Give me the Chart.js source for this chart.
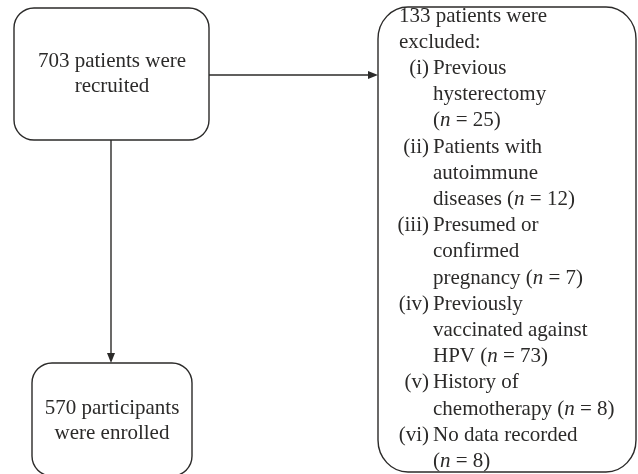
<!DOCTYPE html>
<html>
<head>
<meta charset="utf-8">
<script src="https://cdn.jsdelivr.net/npm/chart.js@4"></script>
<style>
  body { margin: 0; background: #fff; }
  canvas { display: block; }
</style>
</head>
<body>
<canvas id="flow" width="638" height="474"></canvas>
<script>
// flow counts
let recruited = 703;
let excluded = 133;
let enrolled = 570;
let reasonNums = ['(i)', '(ii)', '(iii)', '(iv)', '(v)', '(vi)'];
let reasonText = [
    ['Previous', 'hysterectomy', '(n = 25)'],
    ['Patients with', 'autoimmune', 'diseases (n = 12)'],
    ['Presumed or', 'confirmed', 'pregnancy (n = 7)'],
    ['Previously', 'vaccinated against', 'HPV (n = 73)'],
    ['History of', 'chemotherapy (n = 8)'],
    ['No data recorded', '(n = 8)']
];
let reasonCounts = [25, 12, 7, 73, 8, 8];

let ink = '#2b2a29';
let font = '21px "Liberation Serif", "DejaVu Serif", serif';
let fontIt = 'italic 21px "Liberation Serif", "DejaVu Serif", serif';

// boxes in axis units (x 0..638, y 0..474 top-down)
let boxes = {
    rec: { x0: 14, y0: 8, x1: 209, y1: 140, rx: 20, ry: 20 },
    exc: { x0: 378, y0: 7, x1: 636, y1: 472, rx: 30, ry: 32 },
    enr: { x0: 32, y0: 363, x1: 192, y1: 476, rx: 20, ry: 20 }
};

function roundBox(ctx, xs, ys, b) {
    let x0 = xs.getPixelForValue(b.x0), x1 = xs.getPixelForValue(b.x1);
    let y0 = ys.getPixelForValue(b.y0), y1 = ys.getPixelForValue(b.y1);
    let rx = b.rx, ry = b.ry;
    ctx.beginPath();
    ctx.moveTo(x0 + rx, y0);
    ctx.lineTo(x1 - rx, y0);
    ctx.ellipse(x1 - rx, y0 + ry, rx, ry, 0, -Math.PI / 2, 0);
    ctx.lineTo(x1, y1 - ry);
    ctx.ellipse(x1 - rx, y1 - ry, rx, ry, 0, 0, Math.PI / 2);
    ctx.lineTo(x0 + rx, y1);
    ctx.ellipse(x0 + rx, y1 - ry, rx, ry, 0, Math.PI / 2, Math.PI);
    ctx.lineTo(x0, y0 + ry);
    ctx.ellipse(x0 + rx, y0 + ry, rx, ry, 0, Math.PI, Math.PI * 1.5);
    ctx.closePath();
    ctx.stroke();
}

function arrow(ctx, xs, ys, ax, ay, bx, by) {
    let x0 = xs.getPixelForValue(ax), y0 = ys.getPixelForValue(ay);
    let x1 = xs.getPixelForValue(bx), y1 = ys.getPixelForValue(by);
    let ang = Math.atan2(y1 - y0, x1 - x0);
    ctx.beginPath();
    ctx.moveTo(x0, y0);
    ctx.lineTo(x1 - 8 * Math.cos(ang), y1 - 8 * Math.sin(ang));
    ctx.stroke();
    ctx.beginPath();
    ctx.moveTo(x1, y1);
    ctx.lineTo(x1 - 10 * Math.cos(ang) + 4 * Math.sin(ang), y1 - 10 * Math.sin(ang) - 4 * Math.cos(ang));
    ctx.lineTo(x1 - 10 * Math.cos(ang) - 4 * Math.sin(ang), y1 - 10 * Math.sin(ang) + 4 * Math.cos(ang));
    ctx.closePath();
    ctx.fill();
}

// draws a line where "n" is italic
function richText(ctx, str, x, y, align) {
    let parts = str.split(/(\bn\b)/);
    let total = 0;
    parts.forEach(p => {
        ctx.font = p === 'n' ? fontIt : font;
        total += ctx.measureText(p).width;
    });
    let cx = align === 'center' ? x - total / 2 : x;
    ctx.textAlign = 'left';
    parts.forEach(p => {
        ctx.font = p === 'n' ? fontIt : font;
        ctx.fillText(p, cx, y);
        cx += ctx.measureText(p).width;
    });
}

let flowPlugin = {
    id: 'flow',
    afterDraw(chart) {
        let ctx = chart.ctx;
        let xs = chart.scales.x, ys = chart.scales.y;
        ctx.save();
        ctx.strokeStyle = ink;
        ctx.fillStyle = ink;
        ctx.lineWidth = 1.4;
        roundBox(ctx, xs, ys, boxes.rec);
        roundBox(ctx, xs, ys, boxes.exc);
        roundBox(ctx, xs, ys, boxes.enr);
        arrow(ctx, xs, ys, 209, 75, 378, 75);
        arrow(ctx, xs, ys, 111, 140, 111, 363);

        ctx.textBaseline = 'middle';
        let cxRec = xs.getPixelForValue(112);
        richText(ctx, recruited + ' patients were', cxRec, ys.getPixelForValue(61), 'center');
        richText(ctx, 'recruited', cxRec, ys.getPixelForValue(86), 'center');
        richText(ctx, enrolled + ' participants', cxRec, ys.getPixelForValue(408), 'center');
        richText(ctx, 'were enrolled', cxRec, ys.getPixelForValue(433), 'center');

        let lh = 26.2;
        let y = 16;
        let left = xs.getPixelForValue(399);
        richText(ctx, excluded + ' patients were', left, ys.getPixelForValue(y), 'left');
        y += lh;
        richText(ctx, 'excluded:', left, ys.getPixelForValue(y), 'left');
        y += lh;
        let numRight = xs.getPixelForValue(429);
        let textLeft = xs.getPixelForValue(433);
        reasonText.forEach((lines, i) => {
            ctx.font = font;
            ctx.textAlign = 'right';
            ctx.fillText(reasonNums[i], numRight, ys.getPixelForValue(y));
            lines.forEach(l => {
                richText(ctx, l, textLeft, ys.getPixelForValue(y), 'left');
                y += lh;
            });
        });
        ctx.restore();
    }
};

new Chart(document.getElementById('flow').getContext('2d'), {
    type: 'scatter',
    data: {
        datasets: [{
            data: [{ x: 112, y: 74 }, { x: 507, y: 240 }, { x: 112, y: 420 }],
            pointRadius: 0
        }]
    },
    options: {
        responsive: false,
        animation: false,
        layout: { padding: 0 },
        plugins: { legend: { display: false }, tooltip: { enabled: false } },
        scales: {
            x: { type: 'linear', min: 0, max: 638, display: false },
            y: { type: 'linear', min: 0, max: 474, reverse: true, display: false }
        }
    },
    plugins: [flowPlugin]
});
</script>
</body>
</html>
